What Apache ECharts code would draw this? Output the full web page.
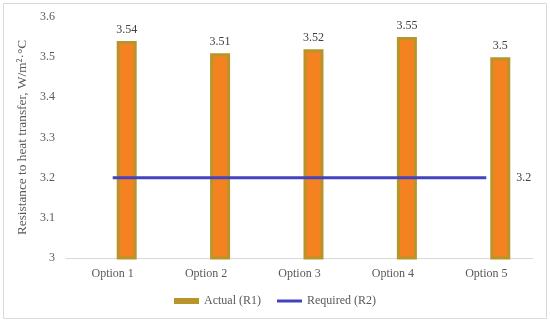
<!DOCTYPE html>
<html>
<head>
<meta charset="utf-8">
<script src="https://cdn.jsdelivr.net/npm/echarts@6/dist/echarts.min.js"></script>
<style>html,body{margin:0;padding:0;background:#fff}#c{width:550px;height:324px}</style>
</head>
<body>
<div id="c"></div>
<script>
const categories = ['Option 1', 'Option 2', 'Option 3', 'Option 4', 'Option 5'];
const actualValues = [3.54, 3.51, 3.52, 3.55, 3.5];
const requiredValues = [3.2, 3.2, 3.2, 3.2, 3.2];
const yTicks = [3, 3.1, 3.2, 3.3, 3.4, 3.5, 3.6];

const FONT = 'Liberation Serif';
const chart = echarts.init(document.getElementById('c'));
chart.setOption({
  animation: false,
  textStyle: { fontFamily: FONT },
  graphic: [{
    type: 'rect', shape: { x: 3.5, y: 3.5, width: 543, height: 315 },
    style: { fill: 'none', stroke: '#d9d9d9', lineWidth: 1 }, silent: true, z: -1
  }],
  grid: { left: 66, right: 17, top: 17, bottom: 66 },
  legend: {
    bottom: 12, left: 'center', itemGap: 16, itemWidth: 25, itemHeight: 6,
    textStyle: { fontFamily: FONT, fontSize: 12, color: '#595959' },
    data: [
      { name: 'Actual (R1)', icon: 'rect', itemStyle: { color: '#b8952a', borderWidth: 0 } },
      { name: 'Required (R2)', icon: 'path://M0,0H0.01V0.01H0ZM0,6H0.01V5.99H0ZM0,1.5H25V4.5H0Z', itemStyle: { color: '#4343c2' } }
    ]
  },
  xAxis: {
    type: 'category', data: categories,
    axisTick: { show: false },
    axisLine: { lineStyle: { color: '#d9d9d9', width: 1 } },
    axisLabel: { fontFamily: FONT, fontSize: 12, color: '#595959', margin: 10 }
  },
  yAxis: {
    type: 'value', min: yTicks[0], max: yTicks[yTicks.length - 1], interval: 0.1,
    splitLine: { show: false },
    axisLine: { show: false }, axisTick: { show: false },
    axisLabel: { fontFamily: FONT, fontSize: 12, color: '#595959', margin: 11 },
    name: 'Resistance to heat transfer, W/m²·°C',
    nameLocation: 'middle', nameGap: 28,
    nameTextStyle: { fontFamily: FONT, fontSize: 13.3, color: '#595959' }
  },
  series: [
    { type: 'bar', name: 'spacer', data: categories.map(() => '-'), barWidth: 20, silent: true },
    {
      type: 'bar', name: 'Actual (R1)', data: actualValues, barWidth: 20, barGap: '40%',
      itemStyle: { color: '#f58220', borderColor: '#b8952a', borderWidth: 3 },
      label: { show: true, position: 'top', distance: 5, fontFamily: FONT, fontSize: 12, color: '#404040' }
    },
    {
      type: 'line', name: 'Required (R2)', data: requiredValues,
      showSymbol: false, symbol: 'none',
      lineStyle: { color: '#4343c2', width: 3 }, itemStyle: { color: '#4343c2' },
      z: 5,
      endLabel: { show: true, distance: 30, fontFamily: FONT, fontSize: 12, color: '#404040' }
    }
  ]
});
</script>
</body>
</html>
